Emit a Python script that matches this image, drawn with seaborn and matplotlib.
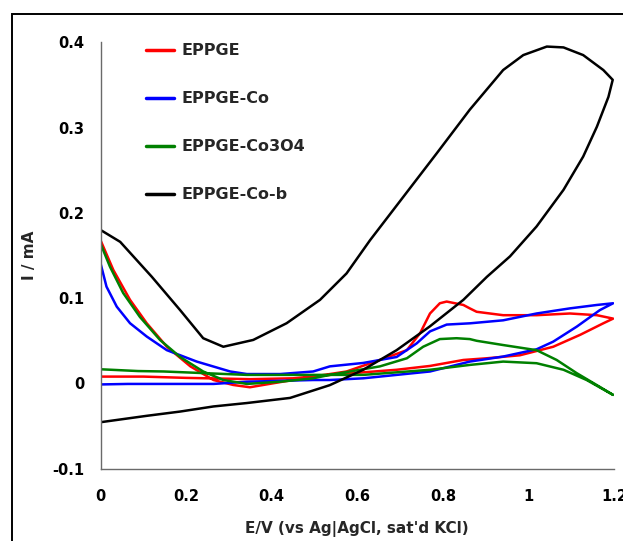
import numpy as np
import pandas as pd
import matplotlib
matplotlib.use("Agg")
import matplotlib.pyplot as plt
import seaborn as sns
from matplotlib.patches import Rectangle

# ---------------- data ----------------
series_names = ["EPPGE", "EPPGE-Co", "EPPGE-Co3O4", "EPPGE-Co-b"]
series_colors = ["#ff0000", "#0000ff", "#008000", "#000000"]

eppge_E = [0, 0.030, 0.069, 0.108, 0.155, 0.210, 0.264, 0.310, 0.349, 0.404, 0.497, 0.536,
           0.575, 0.653, 0.716, 0.747, 0.770, 0.793, 0.809, 0.848, 0.863, 0.879, 0.941, 1.019,
           1.097, 1.160, 1.198, 1.175, 1.121, 1.058, 0.980, 0.903, 0.848, 0.770, 0.692,
           0.536, 0.45, 0.35, 0.2, 0.1, 0]
eppge_I = [0.168, 0.133, 0.098, 0.0706, 0.043, 0.020, 0.004, -0.0018, -0.0045, 0.0002, 0.008, 0.011,
           0.014, 0.0275, 0.039, 0.059, 0.082, 0.094, 0.096, 0.092, 0.088, 0.084, 0.080, 0.080,
           0.082, 0.080, 0.076, 0.0705, 0.057, 0.043, 0.033, 0.0295, 0.0275, 0.0205, 0.016,
           0.010, 0.006, 0.005, 0.0065, 0.008, 0.008]

co_E = [0, 0.014, 0.038, 0.069, 0.108, 0.155, 0.225, 0.303, 0.342, 0.420, 0.497, 0.536, 0.614,
        0.692, 0.739, 0.770, 0.809, 0.864, 0.941, 1.019, 1.097, 1.160, 1.198, 1.167, 1.113,
        1.058, 1.019, 0.941, 0.863, 0.770, 0.614, 0.536, 0.497, 0.342, 0.264, 0.064, 0]
co_I = [0.141, 0.1135, 0.090, 0.0706, 0.055, 0.039, 0.0256, 0.014, 0.011, 0.011, 0.014, 0.020, 0.024,
        0.031, 0.047, 0.061, 0.069, 0.0705, 0.074, 0.082, 0.088, 0.092, 0.094, 0.086, 0.0666,
        0.049, 0.040, 0.0315, 0.0256, 0.014, 0.006, 0.004, 0.004, 0.002, -0.0006, -0.0006, -0.0012]

co3o4_E = [0, 0.022, 0.053, 0.092, 0.139, 0.186, 0.240, 0.287, 0.342, 0.420, 0.497, 0.536, 0.653,
           0.716, 0.754, 0.793, 0.832, 0.863, 0.879, 0.941, 1.019, 1.066, 1.113, 1.160, 1.198,
           1.136, 1.082, 1.019, 0.941, 0.863, 0.770, 0.614, 0.342, 0.148, 0.088, 0]
co3o4_I = [0.164, 0.137, 0.106, 0.078, 0.051, 0.031, 0.014, 0.004, -0.0006, 0.002, 0.006, 0.010, 0.020,
           0.0295, 0.043, 0.052, 0.053, 0.052, 0.050, 0.045, 0.039, 0.0275, 0.012, -0.002, -0.0135,
           0.004, 0.016, 0.0237, 0.0256, 0.0217, 0.016, 0.010, 0.010, 0.014, 0.0145, 0.0166]

cob_E = [0, 0.046, 0.120, 0.186, 0.240, 0.287, 0.357, 0.435, 0.513, 0.575, 0.630, 0.708, 0.786,
         0.863, 0.941, 0.988, 1.043, 1.082, 1.128, 1.175, 1.197, 1.187, 1.160, 1.128, 1.082,
         1.019, 0.957, 0.903, 0.848, 0.770, 0.692, 0.614, 0.536, 0.443, 0.342, 0.264, 0.186,
         0.108, 0]
cob_I = [0.180, 0.166, 0.125, 0.086, 0.053, 0.043, 0.051, 0.0706, 0.098, 0.129, 0.168, 0.219, 0.270,
         0.321, 0.3675, 0.385, 0.395, 0.394, 0.385, 0.3675, 0.356, 0.336, 0.301, 0.266, 0.227,
         0.184, 0.149, 0.125, 0.098, 0.067, 0.039, 0.016, -0.002, -0.017, -0.023, -0.027, -0.033,
         -0.038, -0.0455]

x_ticks = [0, 0.2, 0.4, 0.6, 0.8, 1, 1.2]
x_ticklabels = ["0", "0.2", "0.4", "0.6", "0.8", "1", "1.2"]
y_ticks = [-0.1, 0, 0.1, 0.2, 0.3, 0.4]
y_ticklabels = ["-0.1", "0", "0.1", "0.2", "0.3", "0.4"]

frames = []
for name, E, I in zip(series_names,
                      [eppge_E, co_E, co3o4_E, cob_E],
                      [eppge_I, co_I, co3o4_I, cob_I]):
    frames.append(pd.DataFrame({"E": E, "I": I, "series": name, "order": np.arange(len(E))}))
df = pd.concat(frames, ignore_index=True)

# ---------------- plot ----------------
sns.set_style("white")
plt.rcParams["font.family"] = ["DejaVu Sans"]
plt.rcParams["font.weight"] = "bold"

W, H = 623, 541
fig = plt.figure(figsize=(W / 100, H / 100), dpi=100)
ax_l, ax_r, ax_t, ax_b = 100.5, 614.0, 42.3, 468.7
ax = fig.add_axes([ax_l / W, 1 - ax_b / H, (ax_r - ax_l) / W, (ax_b - ax_t) / H])

sns.lineplot(data=df, x="E", y="I", hue="series", hue_order=series_names,
             palette=series_colors, sort=False, estimator=None, units="series",
             linewidth=1.8, ax=ax, legend=False)

ax.set_xlim(0, 1.2)
ax.set_ylim(-0.1, 0.4)
ax.set_xticks(x_ticks)
ax.set_xticklabels(x_ticklabels)
ax.set_yticks(y_ticks)
ax.set_yticklabels(y_ticklabels)

spine_col = "#6a6a6a"
for s in ["top", "right"]:
    ax.spines[s].set_visible(False)
for s in ["left", "bottom"]:
    ax.spines[s].set_color(spine_col)
    ax.spines[s].set_linewidth(1.0)

ax.tick_params(axis="both", direction="out", length=3.8, width=1.0, color=spine_col,
               labelcolor="black", labelsize=10.5)
ax.tick_params(axis="y", pad=8)
ax.tick_params(axis="x", pad=11)
for lab in ax.get_xticklabels() + ax.get_yticklabels():
    lab.set_fontweight("bold")

ax.set_xlabel("E/V (vs Ag|AgCl, sat'd KCl)", fontsize=11, fontweight="bold")
ax.set_ylabel("I / mA", fontsize=11, fontweight="bold")
ax.xaxis.set_label_coords(0.5, (ax_b - 521) / (ax_b - ax_t))
ax.yaxis.set_label_coords((37 - ax_l) / (ax_r - ax_l), 0.5)

handles = [plt.Line2D([], [], color=c, linewidth=2.5) for c in series_colors]
leg = ax.legend(handles, series_names, loc="upper left",
                bbox_to_anchor=((146 - ax_l) / (ax_r - ax_l), 1 - 1 / (ax_b - ax_t)),
                frameon=False, borderpad=0, borderaxespad=0, handlelength=1.75,
                handletextpad=0.45, labelspacing=2.07,
                prop={"size": 11.5, "weight": "bold"})

# outer frame of the original chart area (extends past the right/bottom edges)
fig.patches.append(Rectangle((11.7 / W, -0.2), 2.0, 1.2 - 14 / H, transform=fig.transFigure,
                             fill=False, edgecolor="black", linewidth=1.4, figure=fig))

fig.savefig("out.png", dpi=100)
